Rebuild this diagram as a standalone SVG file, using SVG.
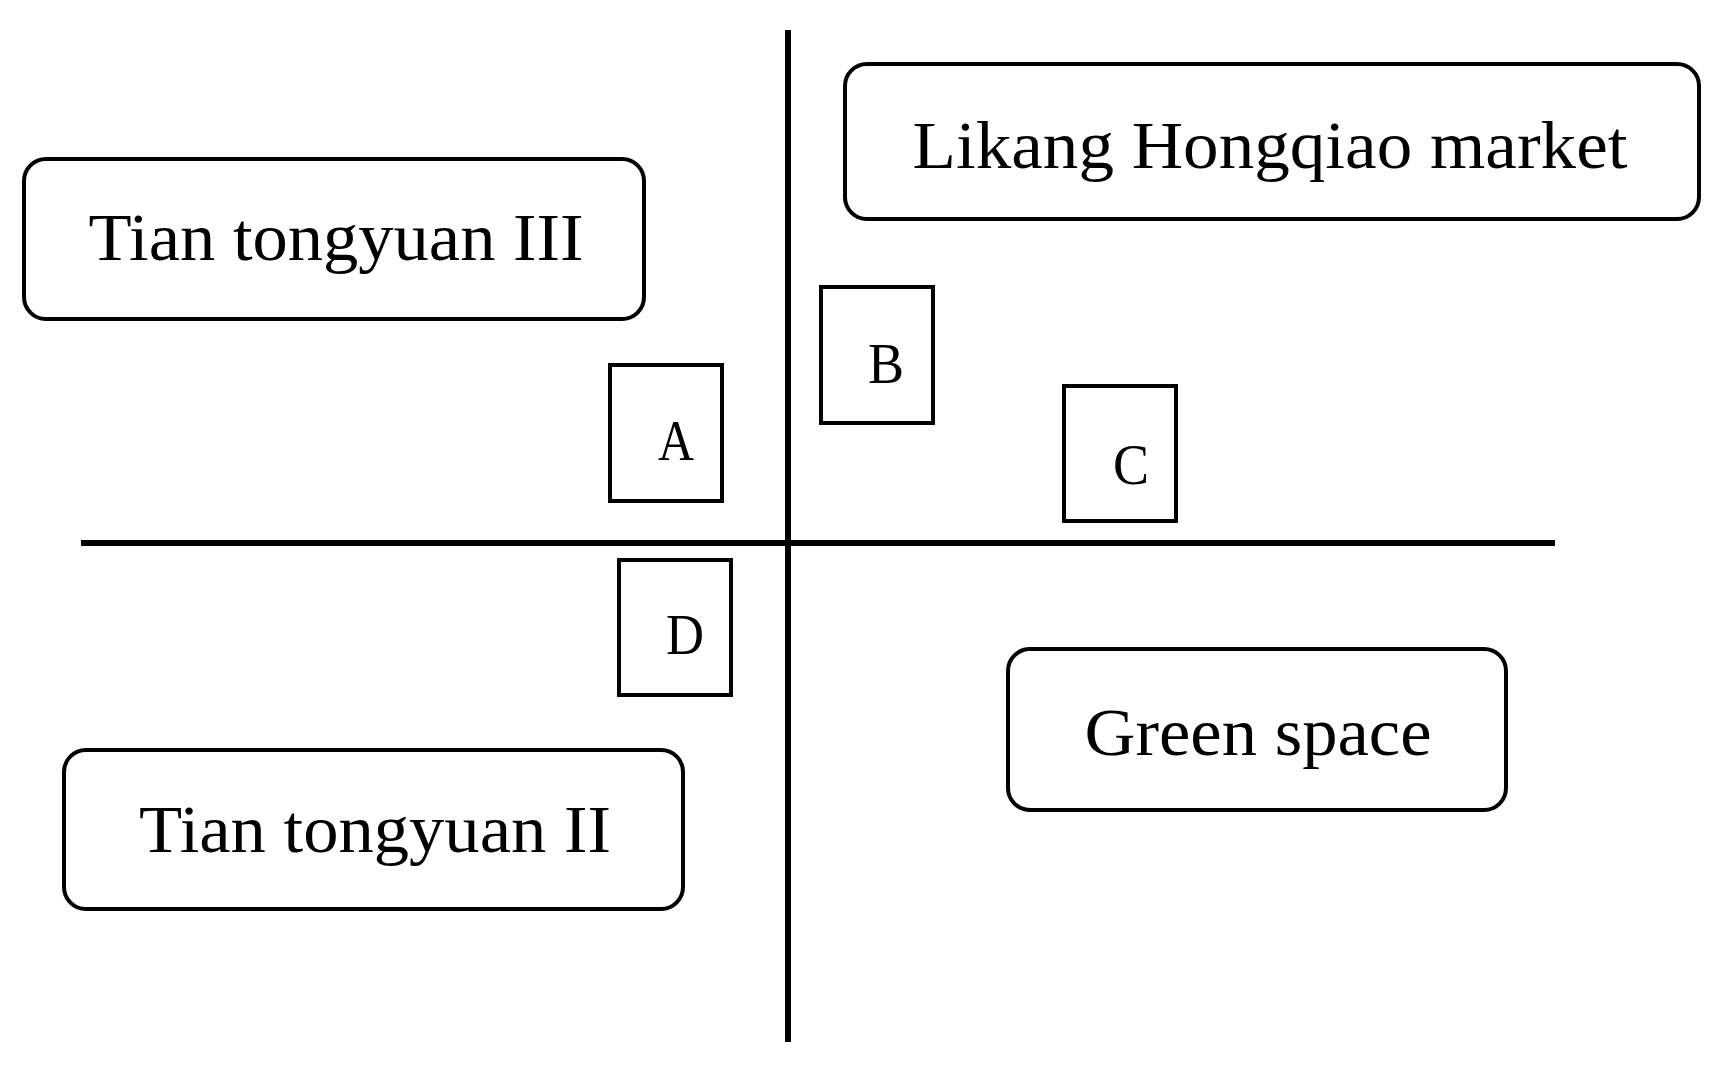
<svg xmlns="http://www.w3.org/2000/svg" width="1722" height="1065" viewBox="0 0 1722 1065">
<style>
.r{fill:#fff;stroke:#000;stroke-width:4}
.t{font-family:"Liberation Serif",serif;font-size:68px;fill:#000;text-anchor:middle}
.s{font-family:"Liberation Serif",serif;font-size:58px;fill:#000;text-anchor:middle}
.l{stroke:#000;stroke-width:6}
</style>
<rect width="1722" height="1065" fill="#fff"/>
<g id="connectors">
<line class="l" x1="788" y1="30" x2="788" y2="1042"/>
<line class="l" x1="81" y1="543" x2="1555" y2="543"/>
</g>
<g id="likang"><rect class="r" x="845" y="64" width="854" height="155" rx="22"/><text class="t" x="1270" y="168" textLength="715" lengthAdjust="spacingAndGlyphs">Likang Hongqiao market</text></g>
<g id="tian3"><rect class="r" x="24" y="159" width="620" height="160" rx="22"/><text class="t" x="336" y="260" textLength="495" lengthAdjust="spacingAndGlyphs">Tian tongyuan III</text></g>
<g id="A"><rect class="r" x="610" y="365" width="112" height="136"/><text class="s" x="676" y="460" textLength="36" lengthAdjust="spacingAndGlyphs">A</text></g>
<g id="B"><rect class="r" x="821" y="287" width="112" height="136"/><text class="s" x="886" y="383" textLength="36" lengthAdjust="spacingAndGlyphs">B</text></g>
<g id="C"><rect class="r" x="1064" y="386" width="112" height="135"/><text class="s" x="1131" y="484" textLength="36" lengthAdjust="spacingAndGlyphs">C</text></g>
<g id="D"><rect class="r" x="619" y="560" width="112" height="135"/><text class="s" x="685" y="654" textLength="38" lengthAdjust="spacingAndGlyphs">D</text></g>
<g id="green"><rect class="r" x="1008" y="649" width="498" height="161" rx="22"/><text class="t" x="1258" y="755" textLength="347" lengthAdjust="spacingAndGlyphs">Green space</text></g>
<g id="tian2"><rect class="r" x="64" y="750" width="619" height="159" rx="22"/><text class="t" x="375" y="852" textLength="472" lengthAdjust="spacingAndGlyphs">Tian tongyuan II</text></g>
</svg>
